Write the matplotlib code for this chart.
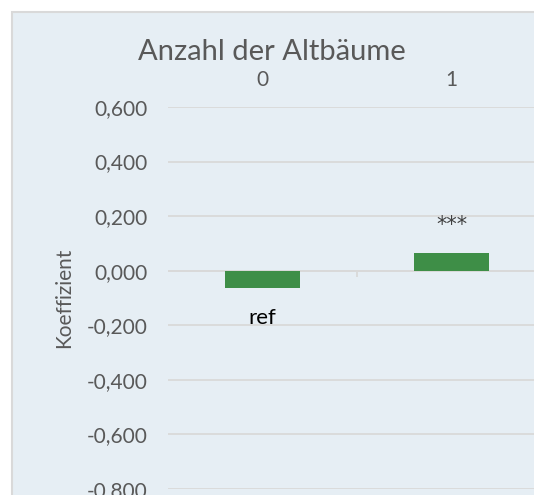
import numpy as np
import matplotlib.pyplot as plt
from matplotlib.patches import Rectangle

# Koeffizienten je Kategorie
categories = ['0', '1']
coefficients = [-0.064, 0.066]
annotations = ['ref', '***']

yticks = [-0.8, -0.6, -0.4, -0.2, 0.0, 0.2, 0.4, 0.6]

plt.rcParams['font.family'] = ['Lato', 'DejaVu Sans']

panel_color = '#E6EEF4'
grid_color = '#D9D9D9'
text_color = '#595959'
bar_color = '#3E8E47'

W, H = 534, 495
fig = plt.figure(figsize=(W / 100, H / 100), dpi=100)
fig.patch.set_facecolor('white')

# chart panel (extends past the right/bottom edge)
fig.patches.append(Rectangle((12 / W, -0.1), 1.2, (H - 12) / H + 0.1,
                             transform=fig.transFigure, facecolor=panel_color,
                             edgecolor=grid_color, linewidth=1.5, zorder=-10))

ax = fig.add_axes([168 / W, 6 / H, 378 / W, 382 / H])
ax.set_facecolor('none')

x = np.arange(len(categories))
ax.bar(x, coefficients, width=0.4, color=bar_color, zorder=3)

for xi, val, txt in zip(x, coefficients, annotations):
    if val < 0:
        ax.text(xi, val - 0.11, txt, ha='center', va='center',
                fontsize=16, color='black')
    else:
        ax.text(xi, val + 0.10, txt, ha='center', va='center',
                fontsize=15, color='#404040', family='DejaVu Sans')

ax.set_xlim(-0.5, len(categories) - 0.5)
ax.set_ylim(-0.8, 0.6)
ax.set_yticks(yticks)
ax.set_yticklabels([f'{v:.3f}'.replace('.', ',') for v in yticks])
ax.yaxis.grid(True, color=grid_color, linewidth=1.3, zorder=0)
ax.set_axisbelow(True)

# category axis at zero with boundary tick
ax.axhline(0, color=grid_color, linewidth=1.3, zorder=1)
ax.vlines(x[:-1] + 0.5, -0.022, 0, color=grid_color, linewidth=1.3, zorder=1)

ax.xaxis.tick_top()
ax.set_xticks(x)
ax.set_xticklabels(categories)
ax.tick_params(axis='x', length=0, pad=12, labelsize=15, labelcolor=text_color)
ax.tick_params(axis='y', length=0, pad=15, labelsize=15, labelcolor=text_color)

for s in ax.spines.values():
    s.set_visible(False)

ax.set_ylabel('Koeffizient', fontsize=15, color=text_color)
ax.yaxis.set_label_coords(-(168 - 74) / 378, (489 - 298) / 382)
fig.text(272 / W, 1 - 52 / H, 'Anzahl der Altbäume', ha='center', va='center',
         fontsize=21, color=text_color)

fig.savefig('out.png', dpi=100)
